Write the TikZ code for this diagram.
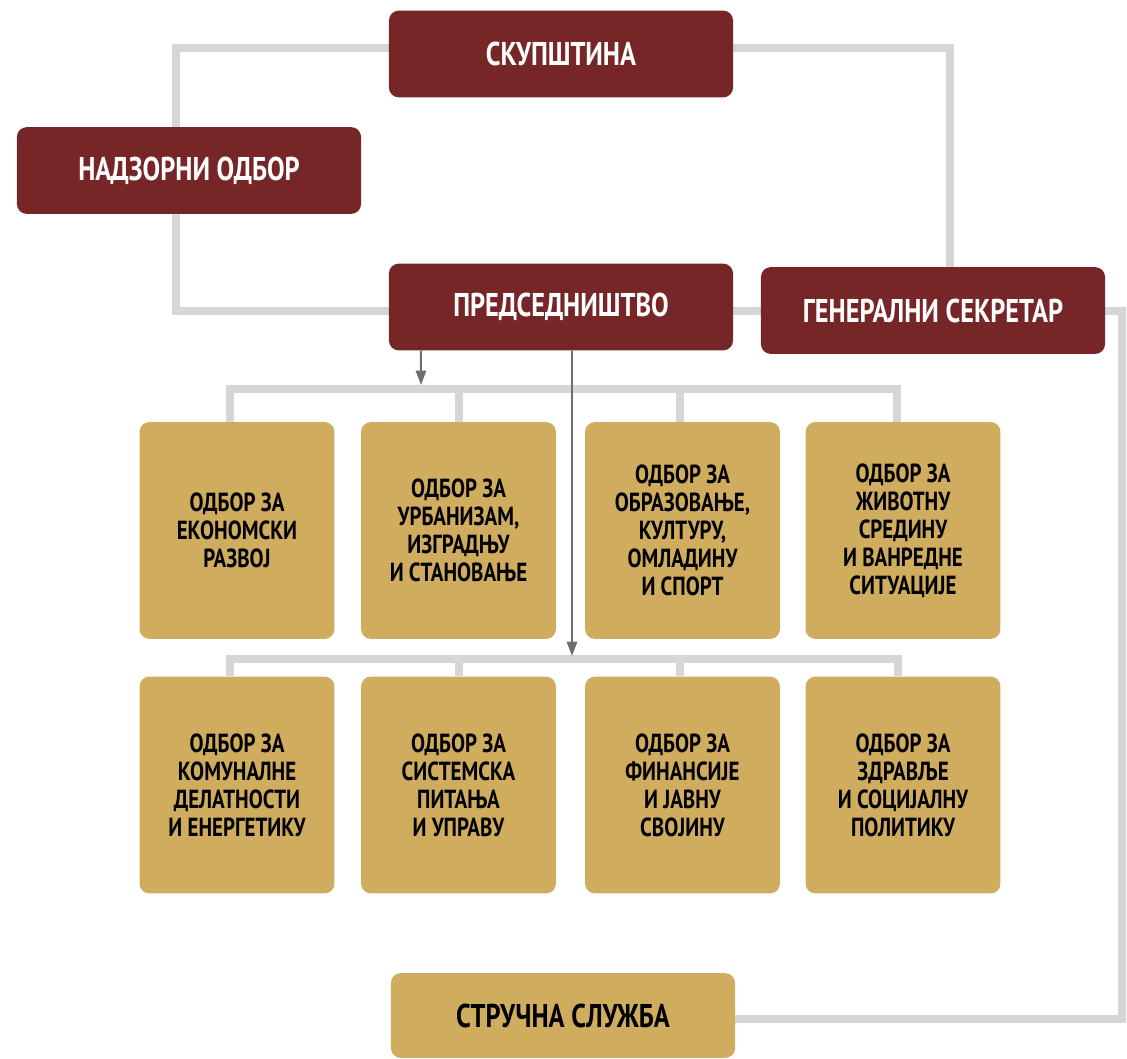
\documentclass[tikz,border=0pt]{standalone}
\usepackage{fontspec}
\newfontfamily\orgfont{PT Sans}[FakeStretch=0.8]
\usetikzlibrary{arrows.meta,backgrounds}
\definecolor{bordo}{HTML}{772628}
\definecolor{zlato}{HTML}{CFAC5E}
\definecolor{veza}{HTML}{D6D6D6}
\definecolor{strela}{HTML}{6F6F6F}

\begin{document}
\begin{tikzpicture}[x=0.025cm,y=-0.025cm,
    organ/.style={fill=bordo,text=white,rounded corners=7pt,minimum width=8.6cm,
      minimum height=2.17cm,font=\orgfont\bfseries\fontsize{23.4}{28}\selectfont},
    odbor/.style={fill=zlato,text=black,rounded corners=7pt,minimum width=4.87cm,
      minimum height=5.42cm,align=center,inner sep=0pt,
      font=\orgfont\bfseries\fontsize{18.6}{19.9}\selectfont},
    veza/.style={draw=veza,line width=0.2cm},
    strela/.style={draw=strela,line width=1.4pt,-{Triangle[width=0.26cm,length=0.36cm]}}]
  \useasboundingbox (0,0) rectangle (1127,1059);

  \node[organ] (skup) at (561,54) {СКУПШТИНА};
  \node[organ] (nadz) at (189,170.5) {НАДЗОРНИ ОДБОР};
  \node[organ] (pred) at (561,307) {ПРЕДСЕДНИШТВО};
  \node[organ] (gen) at (933,310.5) {ГЕНЕРАЛНИ СЕКРЕТАР};

  \node[odbor] (o1) at (237,530.5) {ОДБОР ЗА\\ЕКОНОМСКИ\\РАЗВОЈ};
  \node[odbor] (o2) at (458.5,530.5) {ОДБОР ЗА\\УРБАНИЗАМ,\\ИЗГРАДЊУ\\И СТАНОВАЊЕ};
  \node[odbor] (o3) at (682.5,530.5) {ОДБОР ЗА\\ОБРАЗОВАЊЕ,\\КУЛТУРУ,\\ОМЛАДИНУ\\И СПОРТ};
  \node[odbor] (o4) at (903,530.5) {ОДБОР ЗА\\ЖИВОТНУ\\СРЕДИНУ\\И ВАНРЕДНЕ\\СИТУАЦИЈЕ};

  \node[odbor] (o5) at (237,785) {ОДБОР ЗА\\КОМУНАЛНЕ\\ДЕЛАТНОСТИ\\И ЕНЕРГЕТИКУ};
  \node[odbor] (o6) at (458.5,785) {ОДБОР ЗА\\СИСТЕМСКА\\ПИТАЊА\\И УПРАВУ};
  \node[odbor] (o7) at (682.5,785) {ОДБОР ЗА\\ФИНАНСИЈЕ\\И ЈАВНУ\\СВОЈИНУ};
  \node[odbor] (o8) at (903,785) {ОДБОР ЗА\\ЗДРАВЉЕ\\И СОЦИЈАЛНУ\\ПОЛИТИКУ};

  \node[organ,fill=zlato,text=black,minimum height=2.12cm] (sluzba) at (563,1015.5) {СТРУЧНА СЛУЖБА};

  \coordinate (desno) at (1122,311);
  \coordinate (sina1) at (421,385);
  \coordinate (sina2) at (572,656);

  \begin{scope}[on background layer]
    \draw[veza] ([xshift=-0.325cm]nadz.north) |- ([yshift=0.15cm]skup.center) -| ([xshift=0.425cm]gen.north);
    \draw[veza] ([xshift=-0.325cm]nadz.south) |- (desno) |- ([yshift=-0.09cm]sluzba.east);
    \draw[veza] ([xshift=-0.175cm]o1.north) -- ++(0,-33) -| ([xshift=-0.15cm]o4.north);
    \draw[veza] (o2.north) -- ++(0,-33);
    \draw[veza] ([xshift=-0.075cm]o3.north) -- ++(0,-33);
    \draw[veza] ([xshift=-0.175cm]o5.north) -- ++(0,-17) -| ([xshift=-0.125cm]o8.north);
    \draw[veza] (o6.north) -- ++(0,-17);
    \draw[veza] ([xshift=-0.075cm]o7.north) -- ++(0,-17);
  \end{scope}

  \draw[strela] ([xshift=-3.5cm]pred.south) -- (sina1);
  \draw[strela] ([xshift=0.275cm]pred.south) -- (sina2);
\end{tikzpicture}
\end{document}
